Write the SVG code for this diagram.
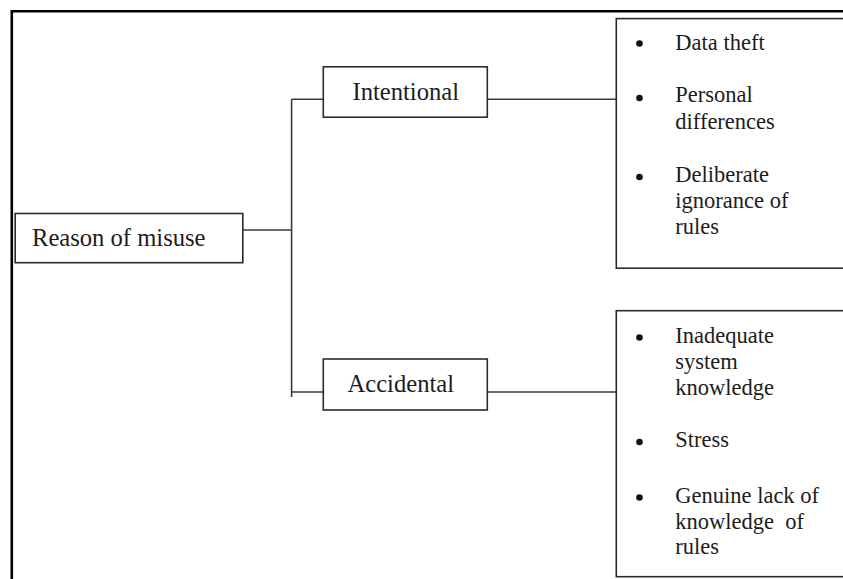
<svg xmlns="http://www.w3.org/2000/svg" width="843" height="579" viewBox="0 0 843 579">
<style>
.box{fill:#fff;stroke:#2a2a2a;stroke-width:1.6}
.ln{fill:none;stroke:#3a3a3a;stroke-width:1.6}
.frame{fill:none;stroke:#000;stroke-width:2.6}
.t{font-family:"Liberation Serif","Times New Roman",serif;fill:#1c1c1c}
.big{font-size:24.6px}
.sm{font-size:22.5px}
.dot{fill:#111}
</style>
<rect width="843" height="579" fill="#fff"/>
<path class="frame" d="M11.8 579 V11.3 H843"/>
<g id="connectors">
<path class="ln" d="M243 230 H291.6"/>
<path class="ln" d="M291.6 99.3 V397"/>
<path class="ln" d="M291.6 99.3 H323.3"/>
<path class="ln" d="M291.6 392 H323.3"/>
<path class="ln" d="M487.3 99.3 H616.3"/>
<path class="ln" d="M487.3 392 H616.3"/>
</g>
<g id="reason">
<rect class="box" x="15.2" y="213.5" width="227.6" height="49.2"/>
<text class="t big" x="32" y="246">Reason of misuse</text>
</g>
<g id="intentional">
<rect class="box" x="323.3" y="66.8" width="164" height="50.4"/>
<text class="t big" x="352.5" y="99.5">Intentional</text>
</g>
<g id="accidental">
<rect class="box" x="323.3" y="359" width="164" height="51"/>
<text class="t big" x="347.5" y="392.3">Accidental</text>
</g>
<g id="intentional-reasons">
<rect class="box" x="616.3" y="18.6" width="240" height="249.6"/>
<circle class="dot" cx="639.5" cy="43.5" r="3.3"/>
<text class="t sm" x="675.3" y="50">Data theft</text>
<circle class="dot" cx="639.5" cy="98" r="3.3"/>
<text class="t sm" x="675.3" y="102">Personal</text>
<text class="t sm" x="675.3" y="128.5">differences</text>
<circle class="dot" cx="639.5" cy="177" r="3.3"/>
<text class="t sm" x="675.3" y="181.7">Deliberate</text>
<text class="t sm" x="675.3" y="207.7">ignorance of</text>
<text class="t sm" x="675.3" y="233.7">rules</text>
</g>
<g id="accidental-reasons">
<rect class="box" x="616.3" y="310.7" width="240" height="266"/>
<circle class="dot" cx="639.5" cy="337.5" r="3.3"/>
<text class="t sm" x="675.3" y="343.3">Inadequate</text>
<text class="t sm" x="675.3" y="369">system</text>
<text class="t sm" x="675.3" y="395">knowledge</text>
<circle class="dot" cx="639.5" cy="442" r="3.3"/>
<text class="t sm" x="675.3" y="447">Stress</text>
<circle class="dot" cx="639.5" cy="497.5" r="3.3"/>
<text class="t sm" x="675.3" y="503.3" xml:space="preserve">Genuine lack of</text>
<text class="t sm" x="675.3" y="528.5" xml:space="preserve">knowledge  of</text>
<text class="t sm" x="675.3" y="553.5">rules</text>
</g>
</svg>
